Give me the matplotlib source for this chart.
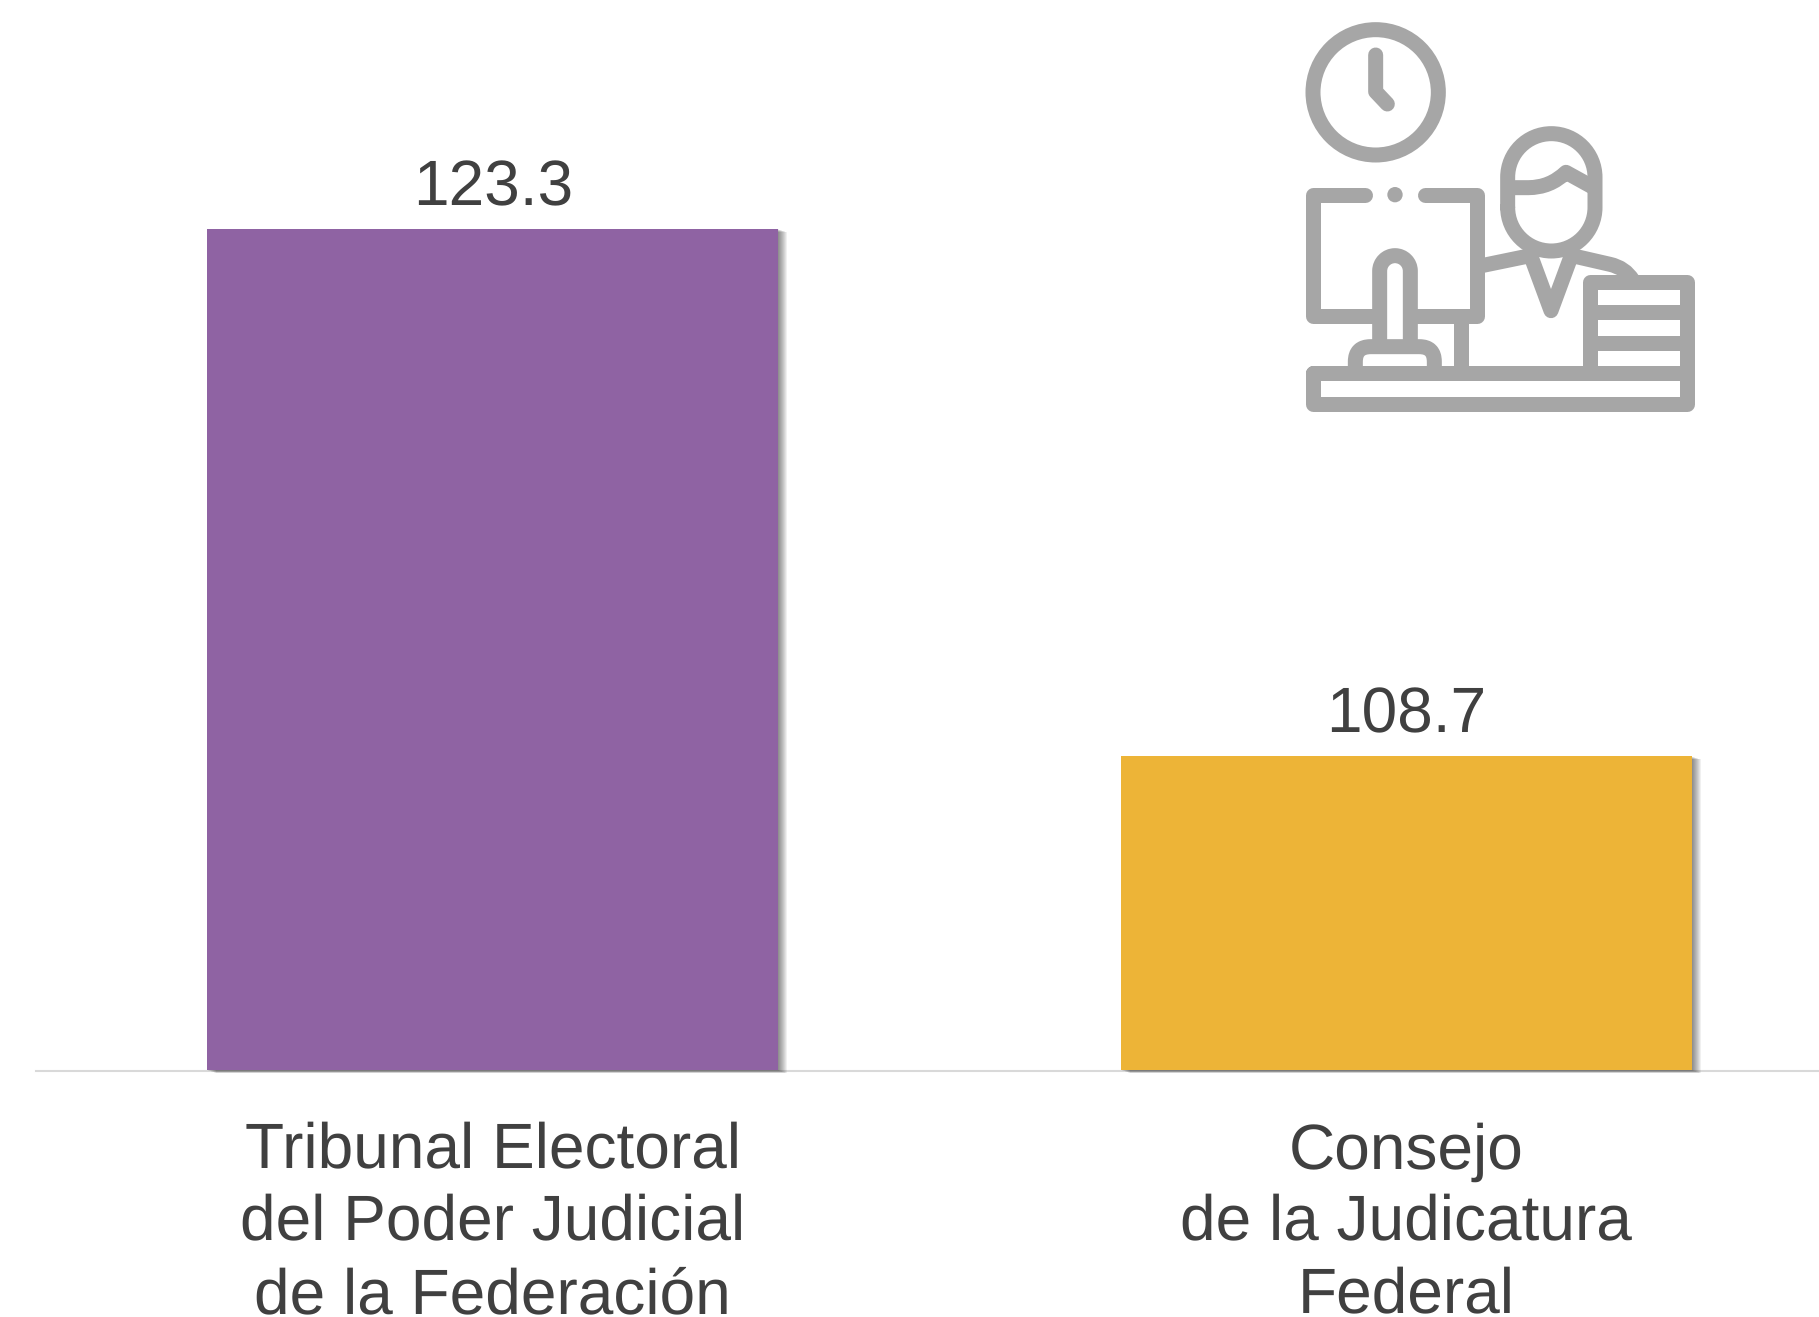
import matplotlib
matplotlib.use("Agg")
import matplotlib.pyplot as plt
import matplotlib.patheffects as pe
from matplotlib.path import Path
from matplotlib.patches import PathPatch, Circle

categories = ["Tribunal Electoral\ndel Poder Judicial\nde la Federación",
              "Consejo\nde la Judicatura\nFederal"]
values = [123.3, 108.7]
value_labels = ["123.3", "108.7"]
colors = ["#8F63A3", "#EDB437"]
axis_floor = 100

W, H = 1819, 1317
plt.rcParams["font.family"] = ["Liberation Sans", "DejaVu Sans"]
plt.rcParams["text.hinting"] = "no_hinting"
plt.rcParams["text.hinting_factor"] = 1
TEXT = "#404040"
fig = plt.figure(figsize=(W / 100, H / 100), dpi=100, facecolor="white")

# chart axes: runs past the right edge of the figure, as in the reference
base_y = 1070.5
ax = fig.add_axes([36 / W, 1 - base_y / H, 1827 / W, base_y / H])
ax.set_xlim(-0.5, 1.5)
ax.set_ylim(axis_floor, axis_floor + base_y / 36.12)
ax.patch.set_alpha(0)
for s in ("top", "left", "right"):
    ax.spines[s].set_visible(False)
ax.spines["bottom"].set_color("#D9D9D9")
ax.spines["bottom"].set_linewidth(1.5)
ax.spines["bottom"].set_zorder(1)
ax.set_yticks([])

shadow = [pe.SimplePatchShadow(offset=(k * 0.72, -k / 3 * 0.72),
                               shadow_rgbFace="#000000", alpha=0.06)
          for k in range(9, 0, -1)]
bars = ax.bar(range(2), [v - axis_floor for v in values], bottom=axis_floor,
              width=0.6255, color=colors, linewidth=0, zorder=3, clip_on=False)
for b in bars:
    b.set_path_effects(shadow + [pe.Normal()])

for i, (v, t) in enumerate(zip(values, value_labels)):
    ax.annotate(t, (i, v), xytext=(0, 17.3), textcoords="offset points",
                ha="center", va="baseline", fontsize=46, color=TEXT, zorder=5)

ax.set_xticks(range(2))
ax.set_xticklabels(categories, fontsize=46, color=TEXT, linespacing=1.275)
ax.tick_params(axis="x", length=0, pad=37)

# decorative icon, drawn on its own overlay axes in the icon's own units
ix = fig.add_axes([1280 / W, 1 - 430 / H, 440 / W, 430 / H])
ix.set_xlim(0, 1320)
ix.set_ylim(1290, 0)
ix.axis("off")
GREY = "#A6A6A6"
LW = 45 / 3 * 0.72
M, L, Q = Path.MOVETO, Path.LINETO, Path.CURVE3
C4 = Path.CURVE4


def stroke(verts, codes=None, cap="round"):
    if codes is None:
        codes = [M] + [L] * (len(verts) - 1)
    ix.add_patch(PathPatch(Path(verts, codes), fc="none", ec=GREY, lw=LW,
                           capstyle=cap, joinstyle="round"))


# clock
ix.add_patch(Circle((287, 277), 188, fc="none", ec=GREY, lw=LW))
stroke([(287, 165), (287, 275), (322, 312)])

# monitor
stroke([(255, 584), (98, 584), (98, 949), (285, 949)])
stroke([(405, 949), (591, 949), (591, 584), (436, 584)])
ix.add_patch(Circle((345, 584), 23, fc=GREY, ec="none"))
# stand
s = 0.5523 * 46
stroke([(299, 1030), (299, 813), (299, 813 - s), (345 - s, 767), (345, 767),
        (345 + s, 767), (391, 813 - s), (391, 813), (391, 1030)],
       [M, L, C4, C4, C4, C4, C4, C4, L], cap="butt")
stroke([(226, 1115), (226, 1085), (226, 1040), (272, 1040), (418, 1040), (463, 1040), (463, 1085), (463, 1115)],
       [M, L, Q, Q, L, Q, Q, L], cap="butt")
stroke([(544, 960), (544, 1115)], cap="butt")

# desk and drawers
stroke([(98, 1120), (1222, 1120), (1222, 1212), (98, 1212), (98, 1120)])
stroke([(929, 1120), (929, 847), (1222, 847), (1222, 1120)])
stroke([(929, 937), (1222, 937)], cap="butt")
stroke([(929, 1029), (1222, 1029)], cap="butt")

# shoulders (under the head outline)
stroke([(600, 798), (760, 765)], cap="butt")
stroke([(868, 765), (990, 793), (1035, 803), (1058, 840)], [M, L, Q, Q], cap="butt")
# tie
stroke([(745, 748), (813, 932), (881, 748)], cap="butt")

# head
k = 0.5523 * 131
stroke([(683, 622), (683, 532), (683, 532 - k), (814 - k, 401), (814, 401),
        (814 + k, 401), (945, 532 - k), (945, 532), (945, 622),
        (945, 622 + k), (814 + k, 753), (814, 753),
        (814 - k, 753), (683, 622 + k), (683, 622)],
       [M, L, C4, C4, C4, C4, C4, C4, L, C4, C4, C4, C4, C4, C4])
# hair
stroke([(683, 563), (745, 563), (810, 563), (858, 517), (945, 565)], [M, L, Q, Q, L], cap="butt")

fig.savefig("out.png", dpi=100, facecolor="white")
